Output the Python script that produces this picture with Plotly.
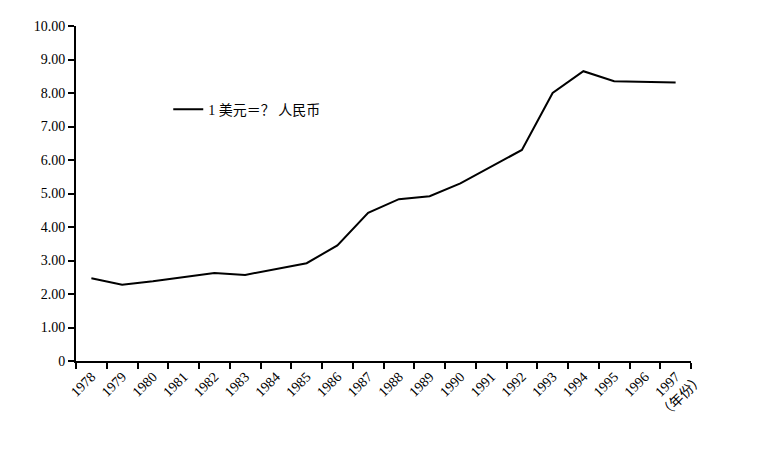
import plotly.graph_objects as go

years = [str(y) for y in range(1978, 1998)]
rates = [2.47, 2.28, 2.38, 2.50, 2.63, 2.57, 2.75, 2.92, 3.45, 4.42, 4.83, 4.92, 5.30, 5.80, 6.30, 8.00, 8.65, 8.35, 8.33, 8.31]
ytick_vals = [0, 1, 2, 3, 4, 5, 6, 7, 8, 9, 10]
ytick_text = ["0"] + [f"{v:.2f}" for v in ytick_vals[1:]]

fig = go.Figure(go.Scatter(x=years, y=rates, mode="lines", name="1 美元＝？ 人民币",
                           line=dict(color="black", width=2)))
fig.update_layout(
    width=764, height=453, paper_bgcolor="white", plot_bgcolor="white",
    margin=dict(l=68, r=81, t=18, b=100),
    font=dict(family="Liberation Serif, Noto Sans CJK SC", size=14, color="black"),
    showlegend=True,
    legend=dict(x=0.15, y=0.75, xanchor="left", yanchor="middle", bgcolor="rgba(0,0,0,0)"),
    annotations=[dict(text="（年份）", x=1.03, y=-0.19, xref="paper", yref="paper",
                      showarrow=False, textangle=-45, font=dict(size=14, color="black"))],
)
fig.update_xaxes(type="category", tickson="boundaries", ticks="outside", ticklen=6,
                 tickwidth=1.5, tickcolor="black", showline=True, linecolor="black",
                 linewidth=2, tickangle=-45, showgrid=False, range=[-0.5, 19.5],
                 tickfont=dict(color="black", size=14))
fig.update_yaxes(range=[0, 10], tickvals=ytick_vals, ticktext=ytick_text, ticks="outside",
                 ticklen=6, tickwidth=1.5, tickcolor="black", showline=True,
                 linecolor="black", linewidth=2, showgrid=False, zeroline=False,
                 tickfont=dict(color="black", size=14))
fig.write_html("out.html")
